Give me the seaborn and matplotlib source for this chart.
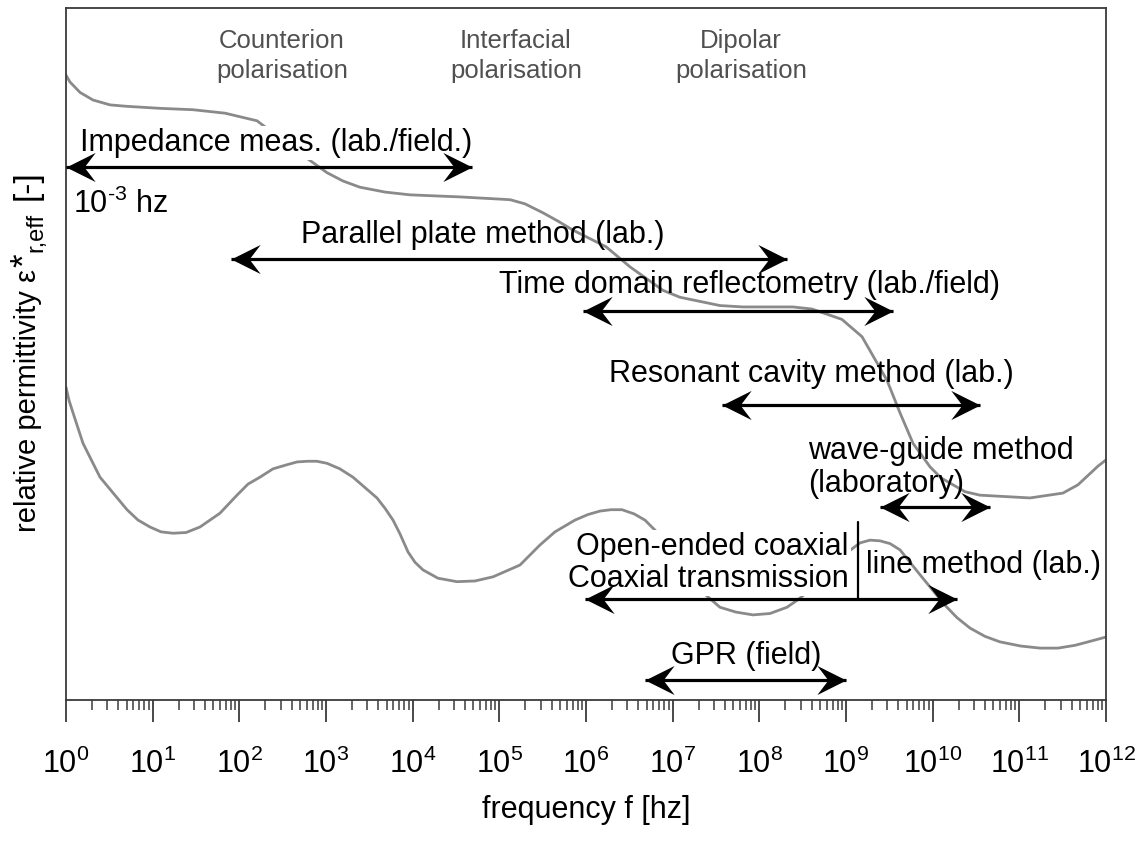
import numpy as np
import pandas as pd
import matplotlib
matplotlib.use("Agg")
import matplotlib.pyplot as plt
from matplotlib.path import Path
from matplotlib.ticker import LogLocator, NullFormatter
import seaborn as sns

# Real part of the effective permittivity (log10 of frequency, relative level)
real_logf = [0.0, 0.046, 0.162, 0.312, 0.508, 0.692, 1.085, 1.465, 1.835, 2.204,
             2.469, 2.723, 3.012, 3.196, 3.392, 3.681, 3.969, 4.546, 5.123, 5.296,
             5.504, 5.677, 5.850, 6.231, 6.507, 6.888, 7.084, 7.546, 7.811, 8.388,
             8.607, 8.953, 9.185, 9.473, 9.623, 9.773, 9.969, 10.096, 10.373, 10.546,
             11.123, 11.503, 11.677, 11.908, 12.0]
real_level = [90.3, 89.3, 87.8, 86.7, 86.0, 85.8, 85.5, 85.3, 84.8, 83.7,
              81.2, 78.8, 76.2, 75.0, 74.1, 73.4, 73.0, 72.7, 72.3, 71.7,
              70.4, 69.2, 67.9, 65.5, 62.6, 59.2, 58.2, 57.0, 56.8, 56.8,
              56.5, 55.0, 52.5, 46.2, 41.5, 37.1, 33.7, 32.1, 30.1, 29.6,
              29.2, 29.9, 31.1, 33.8, 34.7]

# Imaginary part (losses)
imag_logf = [0.0, 0.035, 0.081, 0.196, 0.392, 0.704, 0.831, 0.969, 1.096, 1.235,
             1.385, 1.546, 1.777, 1.973, 2.100, 2.238, 2.388, 2.550, 2.665, 2.781,
             2.896, 3.012, 3.161, 3.311, 3.588, 3.681, 3.773, 3.854, 3.946, 4.027,
             4.119, 4.292, 4.511, 4.719, 4.927, 5.238, 5.469, 5.642, 5.873, 6.023,
             6.161, 6.288, 6.415, 6.554, 6.680, 6.911, 7.142, 7.315, 7.546, 7.731,
             7.927, 8.123, 8.319, 8.446, 8.584, 8.873, 9.023, 9.161, 9.277, 9.392,
             9.508, 9.623, 9.739, 9.854, 10.142, 10.281, 10.430, 10.603, 10.777, 11.015,
             11.238, 11.446, 11.642, 11.823, 12.0]
imag_level = [45.2, 43.3, 41.5, 37.1, 32.2, 27.5, 26.0, 25.0, 24.3, 24.1,
              24.2, 25.0, 27.0, 29.6, 31.2, 32.2, 33.4, 34.0, 34.4, 34.5,
              34.5, 34.2, 33.4, 32.2, 29.2, 27.7, 26.0, 24.0, 21.4, 19.9,
              18.8, 17.6, 17.1, 17.2, 17.8, 19.5, 22.4, 24.3, 26.0, 26.8,
              27.3, 27.5, 27.5, 26.9, 26.0, 23.1, 18.8, 15.9, 13.4, 12.7,
              12.3, 12.5, 13.4, 14.5, 15.9, 19.9, 21.4, 22.7, 23.1, 23.0,
              22.6, 21.7, 19.9, 18.1, 13.7, 11.9, 10.4, 9.2, 8.4, 7.8,
              7.5, 7.5, 7.9, 8.5, 9.1]

# Measurement methods and their frequency ranges (log10 Hz)
methods = ["Impedance", "Parallel plate", "TDR", "Resonant cavity",
           "Wave-guide", "Coaxial", "GPR"]
method_lo = [0.0, 1.9, 5.97, 7.57, 9.39, 5.99, 6.68]
method_hi = [4.69, 8.32, 9.54, 10.55, 10.66, 10.28, 9.0]
method_row = [77.0, 63.7, 56.2, 42.6, 27.9, 14.6, 2.9]

tick_exponents = list(range(0, 13))

sns.set_theme(style="white")
plt.rcParams["font.family"] = ["Liberation Sans", "DejaVu Sans"]
plt.rcParams["mathtext.fontset"] = "custom"
plt.rcParams["mathtext.rm"] = "Liberation Sans"
plt.rcParams["mathtext.it"] = "Liberation Sans"
plt.rcParams["mathtext.default"] = "regular"
plt.rcParams["text.color"] = "black"
plt.rcParams["axes.labelcolor"] = "black"

W, H = 1139, 841
fig = plt.figure(figsize=(W / 100, H / 100), dpi=100)
ax = fig.add_axes([66 / W, 1 - 700 / H, 1040 / W, 692 / H])

curves = pd.concat([
    pd.DataFrame({"f": np.power(10.0, real_logf), "level": real_level, "part": "real"}),
    pd.DataFrame({"f": np.power(10.0, imag_logf), "level": imag_level, "part": "imag"}),
])
sns.lineplot(data=curves, x="f", y="level", units="part", estimator=None,
             color="#8a8a8a", lw=2.0, sort=False, ax=ax, zorder=2)

ax.set_xscale("log")
ax.set_xlim(1, 1e12)
ax.set_ylim(0, 100)

# arrow heads
head_r = Path([(0, 0), (-1, 0.5), (-0.62, 0), (-1, -0.5), (0, 0)],
              [Path.MOVETO, Path.LINETO, Path.LINETO, Path.LINETO, Path.CLOSEPOLY])
head_l = Path([(0, 0), (1, 0.5), (0.62, 0), (1, -0.5), (0, 0)],
              [Path.MOVETO, Path.LINETO, Path.LINETO, Path.LINETO, Path.CLOSEPOLY])
head_ms = 42
for lo, hi, row in zip(method_lo, method_hi, method_row):
    x0, x1 = 10 ** lo, 10 ** hi
    ax.plot([x0, x1], [row, row], color="black", lw=2.3,
            solid_capstyle="butt", zorder=5, clip_on=False)
    ax.plot([x1], [row], marker=head_r, ms=head_ms, color="black",
            mew=0, ls="none", zorder=6, clip_on=False)
    ax.plot([x0], [row], marker=head_l, ms=head_ms, color="black",
            mew=0, ls="none", zorder=6, clip_on=False)

def X(lf):
    return 10 ** lf

fs = 22
pol = dict(fontsize=18.5, color="#505050", ha="center", va="center",
           linespacing=1.32, zorder=3)
ax.text(X(2.49), 93.0, "Counterion\npolarisation", **pol)
ax.text(X(5.19), 93.0, "Interfacial\npolarisation", **pol)
ax.text(X(7.79), 93.0, "Dipolar\npolarisation", **pol)

white = dict(facecolor="white", edgecolor="none", pad=1.5)
ax.text(X(2.43), 79.3, "Impedance meas. (lab./field.)", fontsize=fs,
        ha="center", va="baseline", bbox=white, zorder=3)
ax.text(X(0.08), 70.4, r"$10^{\text{-3}}$ hz", fontsize=fs, ha="left", va="baseline", zorder=3)
ax.text(X(4.81), 66.0, "Parallel plate method (lab.)", fontsize=fs,
        ha="center", va="baseline", zorder=3)
ax.text(X(7.89), 58.8, "Time domain reflectometry (lab./field)", fontsize=fs,
        ha="center", va="baseline", zorder=3)
ax.text(X(8.60), 46.0, "Resonant cavity method (lab.)", fontsize=fs,
        ha="center", va="baseline", zorder=3)
ax.text(X(8.56), 34.8, "wave-guide method", fontsize=fs, ha="left", va="baseline", zorder=3)
ax.text(X(8.56), 30.0, "(laboratory)", fontsize=fs, ha="left", va="baseline", zorder=3)
ax.text(X(9.03), 21.0, "Open-ended coaxial", fontsize=fs, ha="right",
        va="baseline", bbox=white, zorder=3)
ax.text(X(9.03), 16.3, "Coaxial transmission", fontsize=fs, ha="right",
        va="baseline", bbox=white, zorder=3)
ax.plot([X(9.14), X(9.14)], [14.7, 25.7], color="black", lw=1.6, zorder=4)
ax.text(X(9.23), 18.4, "line method (lab.)", fontsize=fs, ha="left", va="baseline", zorder=3)
ax.text(X(7.85), 5.2, "GPR (field)", fontsize=fs, ha="center", va="baseline", zorder=3)

# axes styling
for s in ax.spines.values():
    s.set_visible(True)
    s.set_color("#3a3a3a")
    s.set_linewidth(1.3)
ax.set_yticks([])
ax.set_ylabel("")
ax.xaxis.set_major_locator(LogLocator(base=10, numticks=30))
ax.xaxis.set_minor_locator(LogLocator(base=10, subs=np.arange(2, 10), numticks=300))
ax.xaxis.set_minor_formatter(NullFormatter())
ax.set_xticks([10.0 ** e for e in tick_exponents])
ax.tick_params(axis="x", which="major", direction="out", length=16, width=1.3,
               color="#3a3a3a", labelcolor="black", labelsize=22, pad=19, bottom=True)
ax.tick_params(axis="x", which="minor", direction="out", length=7, width=1.1,
               color="#3a3a3a", bottom=True)
ax.set_xlabel("frequency f [hz]", fontsize=fs, labelpad=11)

# y label assembled from pieces (symbol with superscript star and subscript)
fig.canvas.draw()
renderer = fig.canvas.get_renderer()
base_x = 36          # baseline of the rotated label, pixels from the left
cursor = H - 532     # start of the label, pixels from the bottom
pieces = [("relative permittivity ε", 21, 0, 0),
          ("*", 25, -2, 2),
          ("r,eff", 17, 6, 2),
          ("[-]", 24, 0, 12)]
for txt, size, shift, gap in pieces:
    cursor += gap
    t = fig.text((base_x + shift) / W, cursor / H, txt, fontsize=size,
                 rotation=90, rotation_mode="anchor", ha="left", va="baseline")
    cursor = t.get_window_extent(renderer).y1

fig.savefig("out.png", dpi=100)
